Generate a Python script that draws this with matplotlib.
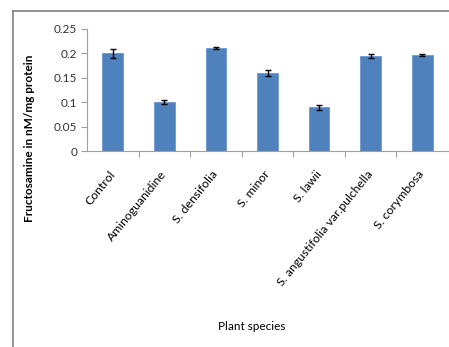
import matplotlib as mpl
mpl.use('Agg')
import matplotlib.pyplot as plt
from matplotlib.lines import Line2D

plt.rcParams['font.family'] = ['Lato', 'DejaVu Sans']

species = ['Control', 'Aminoguanidine', 'S. densifolia', 'S. minor', 'S. lawii',
           'S. angustifolia var.pulchella', 'S. corymbosa']
values = [0.200, 0.101, 0.211, 0.160, 0.090, 0.195, 0.196]
errors = [0.009, 0.004, 0.002, 0.006, 0.005, 0.004, 0.002]

fig = plt.figure(figsize=(4.49, 3.47), dpi=100)
ax = fig.add_axes([87 / 449, 1 - 151 / 347, 361 / 449, 122 / 347])

x = range(len(species))
ax.bar(x, values, width=0.4, color='#4F81BD', edgecolor='#6C98CE', linewidth=0.6,
       yerr=errors, capsize=2.5, error_kw=dict(ecolor='black', elinewidth=1, capthick=1))

ax.set_xlim(-0.5, len(species) - 0.5)
ax.set_ylim(0, 0.25)
ax.set_yticks([0, 0.05, 0.1, 0.15, 0.2, 0.25])
ax.set_yticklabels(['0', '0.05', '0.1', '0.15', '0.2', '0.25'])

# category ticks sit between bars
ax.set_xticks([i + 0.5 for i in range(len(species) - 1)], minor=False)
ax.set_xticklabels([])
ax.tick_params(axis='x', length=4, color='#A0A0A0', direction='out')
ax.set_xticks(list(x), minor=True)
ax.set_xticklabels(species, minor=True, rotation=51, ha='right', va='center',
                   rotation_mode='anchor', fontsize=8.8)
ax.tick_params(axis='x', which='minor', length=0, pad=15)
ax.tick_params(axis='y', length=4, color='#A0A0A0', labelsize=8.5, labelcolor='#333333', pad=3)

for s in ['top', 'right']:
    ax.spines[s].set_visible(False)
ax.spines['left'].set_color('#A0A0A0')
ax.spines['bottom'].set_color('#A0A0A0')

ax.set_ylabel('Fructosamine in nM/mg protein', fontsize=8.5, fontweight='bold')
ax.yaxis.set_label_coords(-0.145, 0.1)
fig.text(252 / 449, 1 - 327 / 347, 'Plant species', fontsize=8.5, ha='center', va='center')

# outer chart frame (only left and top visible)
fig.add_artist(Line2D([12.5 / 449, 12.5 / 449], [0, 1 - 10.5 / 347], color='#808080', lw=1.2))
fig.add_artist(Line2D([12.5 / 449, 1], [1 - 10.5 / 347, 1 - 10.5 / 347], color='#808080', lw=1.2))

fig.savefig('out.png', dpi=100)
